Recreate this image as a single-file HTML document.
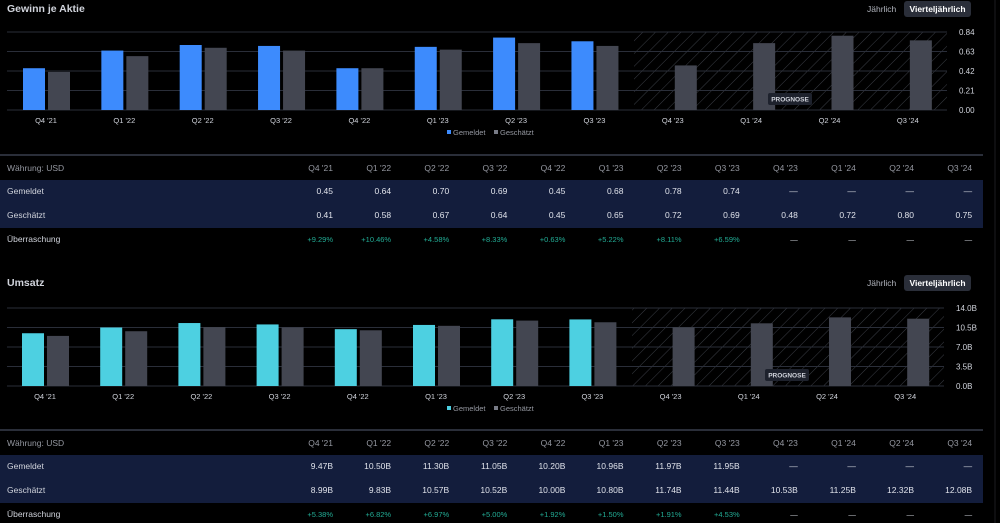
<!DOCTYPE html>
<html><head><meta charset="utf-8"><style>
html,body{margin:0;padding:0;background:#000;width:1000px;height:523px;overflow:hidden}
svg{display:block;font-family:"Liberation Sans",sans-serif}
</style></head><body>
<svg id="s" width="1000" height="523" viewBox="0 0 1000 523">
<defs>
<pattern id="hatch" width="9" height="9" patternUnits="userSpaceOnUse" patternTransform="rotate(45)">
<line x1="0" y1="0" x2="0" y2="9" stroke="#3a3d45" stroke-width="1"/>
</pattern>
</defs>
<line x1="995" y1="0" x2="995" y2="523" stroke="#1c1d21" stroke-width="1"/>
<g id="root"></g>
</svg>
<script>
const quarters=["Q4 '21","Q1 '22","Q2 '22","Q3 '22","Q4 '22","Q1 '23","Q2 '23","Q3 '23","Q4 '23","Q1 '24","Q2 '24","Q3 '24"];
const epsReported=[0.45,0.64,0.70,0.69,0.45,0.68,0.78,0.74,null,null,null,null];
const epsEstimate=[0.41,0.58,0.67,0.64,0.45,0.65,0.72,0.69,0.48,0.72,0.80,0.75];
const epsSurprise=["+9.29%","+10.46%","+4.58%","+8.33%","+0.63%","+5.22%","+8.11%","+6.59%",null,null,null,null];
const epsTicks=[0,0.21,0.42,0.63,0.84];
const epsTickLabels=["0.00","0.21","0.42","0.63","0.84"];
const revReported=[9.47,10.50,11.30,11.05,10.20,10.96,11.97,11.95,null,null,null,null];
const revEstimate=[8.99,9.83,10.57,10.52,10.00,10.80,11.74,11.44,10.53,11.25,12.32,12.08];
const revSurprise=["+5.38%","+6.82%","+6.97%","+5.00%","+1.92%","+1.50%","+1.91%","+4.53%",null,null,null,null];
const revTicks=[0,3.5,7,10.5,14];
const revTickLabels=["0.0B","3.5B","7.0B","10.5B","14.0B"];

const NS="http://www.w3.org/2000/svg";
const root=document.getElementById('root');
function el(tag,attrs,parent,text){const e=document.createElementNS(NS,tag);for(const k in attrs)e.setAttribute(k,attrs[k]);if(text!=null)e.textContent=text;(parent||root).appendChild(e);return e;}

function section(cfg){
  const g=el('g',{});
  
  
  const t=el('text',{x:7,y:cfg.top+12,fill:'#d1d4dc','font-size':10.5,'font-weight':'bold'},g,cfg.title);
  
  
  const j=el('text',{x:867,y:cfg.top+12,fill:'#b2b5be','font-size':8.5},g,'Jährlich');
  
  
  const vb=el('rect',{x:904,y:cfg.top+1,width:67,height:16,rx:3,fill:'#2a2e39'},g);
  
  
  el('text',{x:937.5,y:cfg.top+12,fill:'#fff','font-size':8.5,'font-weight':'bold','text-anchor':'middle'},g,'Vierteljährlich');
  const pt=cfg.plotTop,pb=cfg.plotBot,px0=7,px1=cfg.plotRight;
  const yS=v=>pb-(v/cfg.max)*(pb-pt);
  const xC=i=>cfg.x0+i*cfg.step;
  const h=el('rect',{x:cfg.hatchX,y:pt,width:px1-cfg.hatchX,height:pb-pt,fill:'url(#hatch)'},g);
  
  
  cfg.ticks.forEach((v,i)=>{
    el('line',{x1:px0,x2:px1,y1:yS(v),y2:yS(v),stroke:'#2a2e39','stroke-width':1},g);
    const tl=el('text',{x:px1+12,y:yS(v)+3,fill:'#d1d4dc','font-size':8},g,cfg.tickLabels[i]);
    
    
  });
  quarters.forEach((q,i)=>{
    const c=xC(i);
    if(cfg.rep[i]!=null){
      const b=el('rect',{x:c-23,y:yS(cfg.rep[i]),width:22,height:pb-yS(cfg.rep[i]),fill:cfg.color},g);
      
      
    }
    const b2=el('rect',{x:c+2,y:yS(cfg.est[i]),width:22,height:pb-yS(cfg.est[i]),fill:'#434651'},g);
    
    
    const xl=el('text',{x:c,y:pb+13,fill:'#d1d4dc','font-size':7.5,'text-anchor':'middle'},g,q);
    
    
  });
  const pr=el('rect',{x:cfg.progX,y:pb-17,width:44,height:12,rx:2,fill:'#1e222d'},g);
  
  
  el('text',{x:cfg.progX+22,y:pb-8.5,fill:'#d1d4dc','font-size':6.5,'font-weight':'bold','text-anchor':'middle'},g,'PROGNOSE');
  const lg=el('g',{},g);
  
  
  const ly=pb+25;
  el('rect',{x:447,y:ly-5,width:4,height:4,fill:cfg.color},lg);
  el('text',{x:453,y:ly,fill:'#9598a1','font-size':7.5},lg,'Gemeldet');
  el('rect',{x:494,y:ly-5,width:4,height:4,fill:'#787b86'},lg);
  el('text',{x:500,y:ly,fill:'#9598a1','font-size':7.5},lg,'Geschätzt');
  const tt=cfg.tableTop;
  el('line',{x1:0,x2:983,y1:tt,y2:tt,stroke:'#2a2e39','stroke-width':2},g);
  const band=el('rect',{x:0,y:tt+25,width:983,height:48,fill:'#131d3c'},g);
  
  
  const rows=[['Währung: USD',quarters,'#9598a1',tt+16],['Gemeldet',cfg.repLabels,'#e0e3eb',tt+39],['Geschätzt',cfg.estLabels,'#e0e3eb',tt+63],['Überraschung',cfg.sur,'#22ab94',tt+87]];
  rows.forEach((r,ri)=>{
    const lab=el('text',{x:7,y:r[3],fill:ri==0?'#9598a1':'#d1d4dc','font-size':8.5},g,r[0]);
    
    
    r[1].forEach((v,i)=>{
      const isNull=v==null;
      const c=el('text',{x:333+i*58.1,y:r[3],fill:isNull?'#d1d4dc':r[2],'font-size':ri==3?7.5:8.5,'text-anchor':'end'},g,isNull?'—':v);
      
      
    });
  });
}
section({name:'eps',title:'Gewinn je Aktie',top:0,plotTop:32,plotBot:110,plotRight:947,max:0.84,x0:46,step:78.35,hatchX:634,
  color:'#3d8bfd',rep:epsReported,est:epsEstimate,ticks:epsTicks,tickLabels:epsTickLabels,progX:768,tableTop:155,
  repLabels:epsReported.map(v=>v==null?null:v.toFixed(2)),estLabels:epsEstimate.map(v=>v.toFixed(2)),sur:epsSurprise});
section({name:'revenue',title:'Umsatz',top:274,plotTop:308,plotBot:386,plotRight:944,max:14,x0:45,step:78.2,hatchX:632,
  color:'#4dd0e1',rep:revReported,est:revEstimate,ticks:revTicks,tickLabels:revTickLabels,progX:765,tableTop:430,
  repLabels:revReported.map(v=>v==null?null:v.toFixed(2)+'B'),estLabels:revEstimate.map(v=>v.toFixed(2)+'B'),sur:revSurprise});
</script>
</body></html>
